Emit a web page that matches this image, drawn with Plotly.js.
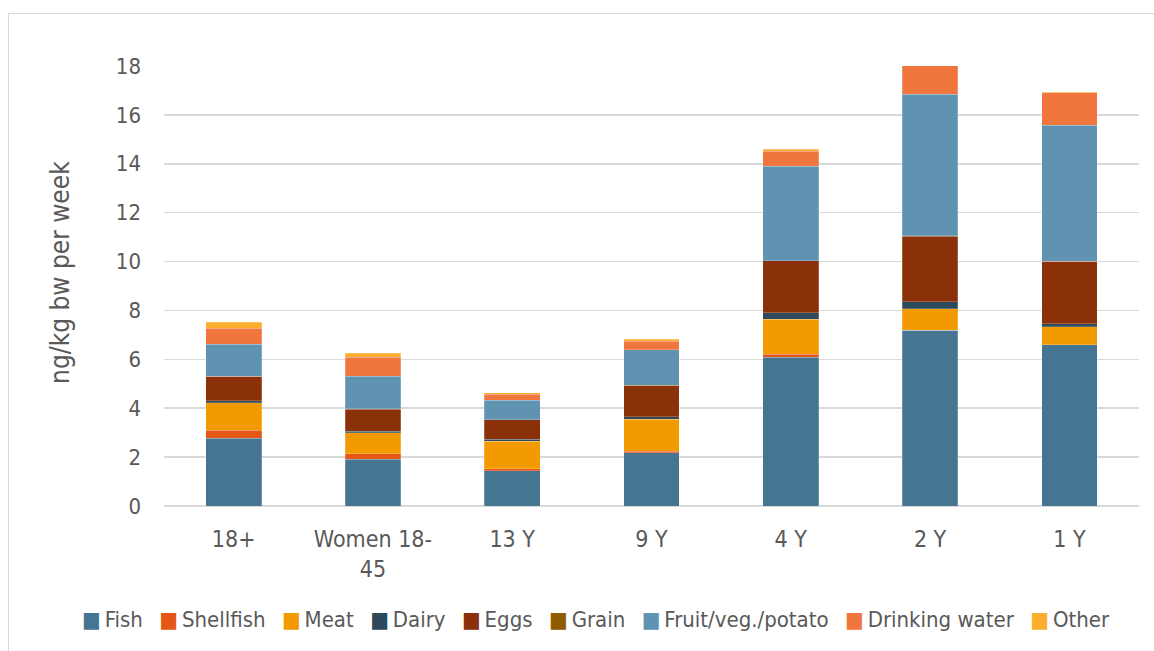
<!DOCTYPE html>
<html>
<head>
<meta charset="utf-8">
<script src="https://cdn.plot.ly/plotly-3.0.1.min.js"></script>
<style>
html,body{margin:0;padding:0;background:#fff;overflow:hidden;}
#frame{position:absolute;left:8px;top:13px;width:1160px;height:660px;border:1.5px solid #d9d9d9;box-sizing:border-box;}
#chart{position:absolute;left:0;top:0;width:1154px;height:651px;}
</style>
</head>
<body>
<div id="frame"></div>
<div id="chart"></div>
<script>
const categories = ["18+", "Women 18-<br>45", "13 Y", "9 Y", "4 Y", "2 Y", "1 Y"];
const fish       = [2.77, 1.91, 1.45, 2.17, 6.09, 7.18, 6.59];
const shellfish  = [0.33, 0.22, 0.07, 0.07, 0.11, 0.02, 0.01];
const meat       = [1.13, 0.86, 1.12, 1.30, 1.44, 0.86, 0.74];
const dairy      = [0.07, 0.07, 0.09, 0.12, 0.26, 0.29, 0.12];
const eggs       = [1.00, 0.90, 0.79, 1.26, 2.13, 2.69, 2.55];
const grain      = [0.01, 0.01, 0.01, 0.01, 0.01, 0.01, 0.01];
const fruitVeg   = [1.31, 1.34, 0.80, 1.46, 3.85, 5.80, 5.56];
const water      = [0.66, 0.78, 0.24, 0.35, 0.63, 1.22, 1.32];
const other      = [0.23, 0.16, 0.07, 0.09, 0.08, 0.05, 0.03];

const yTitle = "ng/kg bw per week";
const seriesNames = ["Fish", "Shellfish", "Meat", "Dairy", "Eggs", "Grain", "Fruit/veg./potato", "Drinking water", "Other"];
const seriesValues = [fish, shellfish, meat, dairy, eggs, grain, fruitVeg, water, other];
const seriesColors = ["#467592", "#E65617", "#F39A00", "#2D4A5C", "#8B310A", "#8E5B00", "#6093B2", "#F1763D", "#FBAE2E"];

const FONT = "DejaVu Sans Condensed, DejaVu Sans, sans-serif";

const traces = seriesNames.map((n, i) => ({
  type: "bar",
  name: n,
  x: categories,
  y: seriesValues[i],
  marker: {color: seriesColors[i], line: {color: "rgba(255,255,255,0.35)", width: 0.6}},
  hoverinfo: "name+y"
}));

// Legend built as a single text line: coloured square glyph + series name
const legendText = seriesNames.map((n, i) =>
  `<span style="color:${seriesColors[i]}">■</span>\u2009${n}`).join("\u2002\u2004");

const layout = {
  width: 1154,
  height: 651,
  barmode: "stack",
  bargap: 0.6,
  paper_bgcolor: "rgba(0,0,0,0)",
  plot_bgcolor: "rgba(0,0,0,0)",
  margin: {l: 164, r: 15, t: 66, b: 145},
  font: {family: FONT, color: "#595959", size: 22},
  xaxis: {
    type: "category",
    tickfont: {size: 23, color: "#595959"},
    ticks: "",
    showgrid: false,
    showline: false,
    ticklabelstandoff: 17
  },
  yaxis: {
    range: [0, 18],
    dtick: 2,
    tickfont: {size: 22, color: "#595959"},
    gridcolor: "#d9d9d9",
    gridwidth: 1.5,
    zeroline: true,
    zerolinecolor: "#d9d9d9",
    zerolinewidth: 1.5,
    showline: false,
    ticks: "",
    ticklabelstandoff: 22
  },
  showlegend: false,
  annotations: [{
    text: legendText,
    xref: "paper", yref: "paper",
    x: 0.443, y: -0.259,
    xanchor: "center", yanchor: "middle",
    showarrow: false,
    font: {family: FONT, size: 22, color: "#595959"}
  }, {
    text: yTitle,
    textangle: -90,
    xref: "paper", yref: "paper",
    x: -0.1067, y: 0.532,
    xanchor: "center", yanchor: "middle",
    showarrow: false,
    font: {family: FONT, size: 26, color: "#595959"}
  }]
};

Plotly.newPlot("chart", traces, layout, {displayModeBar: false, staticPlot: true});
</script>
</body>
</html>
